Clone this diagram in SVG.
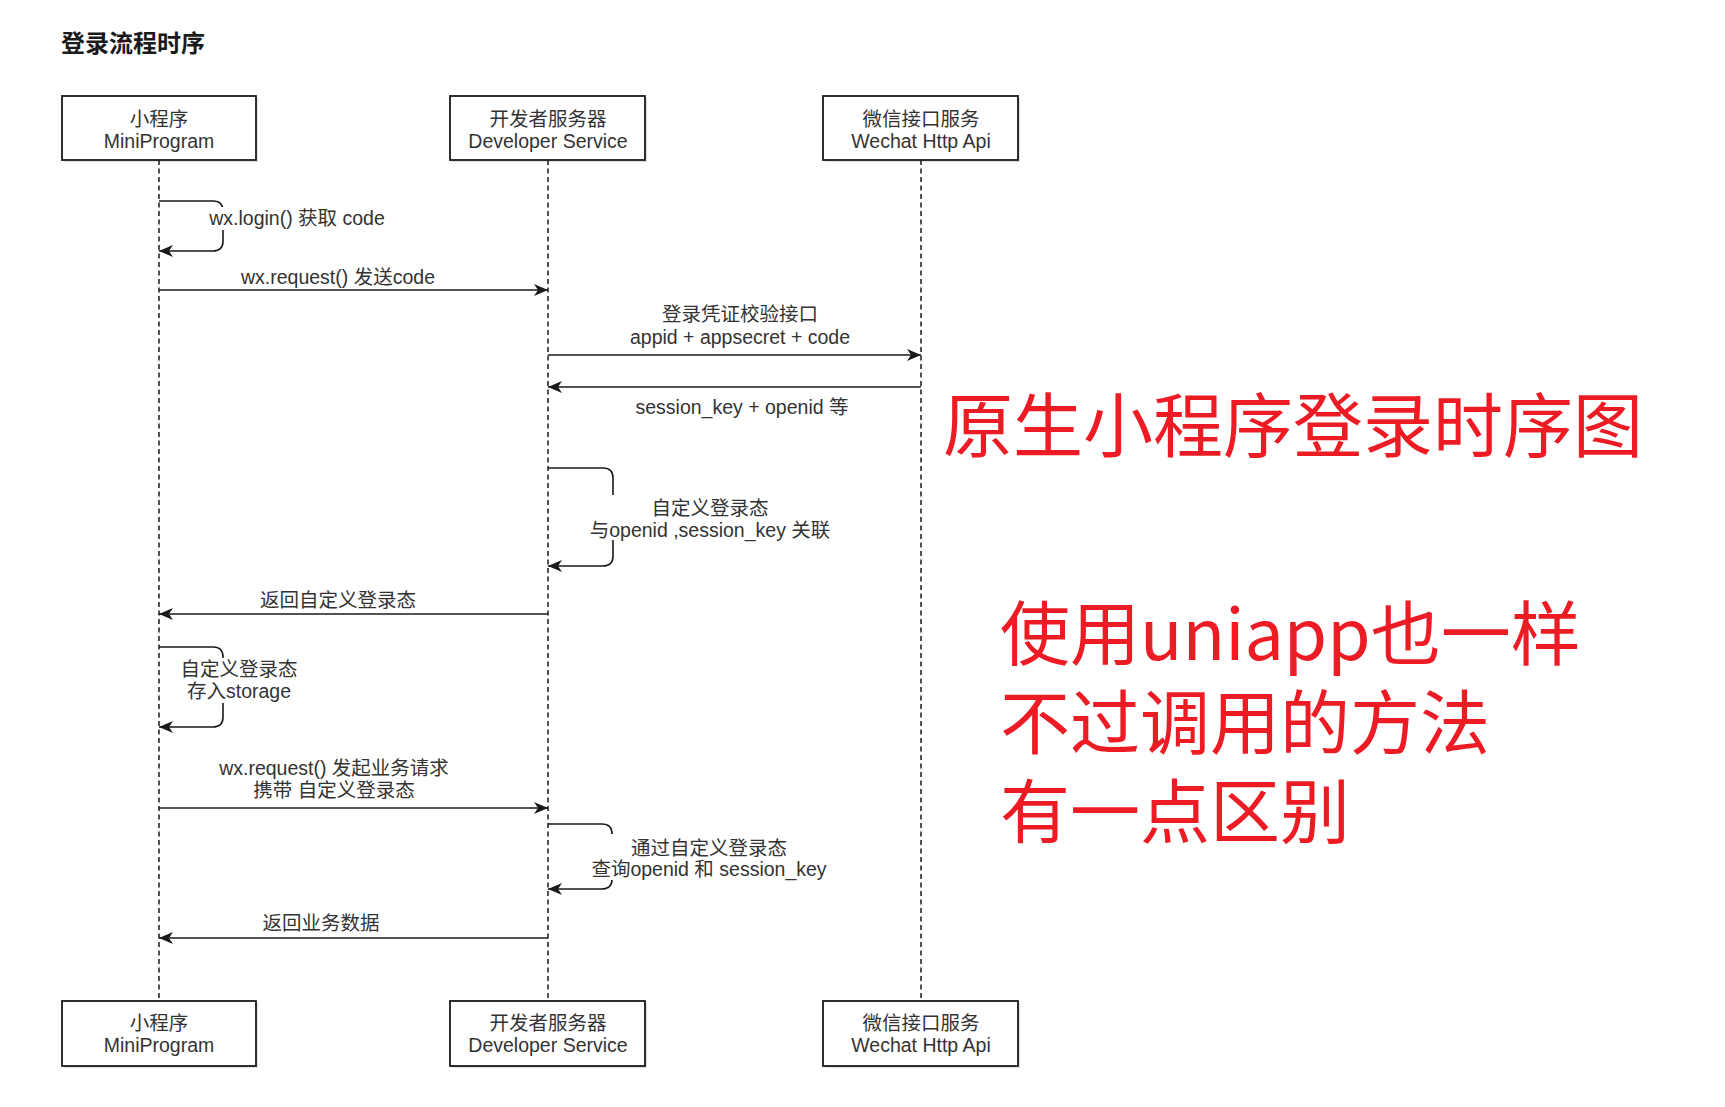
<svg xmlns="http://www.w3.org/2000/svg" width="1725" height="1107" viewBox="0 0 1725 1107">
<style>
.bg{fill:#ffffff}
.box{fill:#ffffff;stroke:#1a1a1a;stroke-width:1.8}
.shadow{fill:#000000;opacity:0.12}
.life{stroke:#1a1a1a;stroke-width:1.5;stroke-dasharray:5 3.5;fill:none}
.msg{stroke:#1a1a1a;stroke-width:1.6;fill:none;marker-end:url(#arr)}
.lbl{font-family:"Liberation Sans","Noto Sans CJK SC",sans-serif;font-size:19.5px;fill:#333333;text-anchor:middle}
.lblbg{fill:#ffffff}
.title{font-family:"Noto Sans CJK SC","Liberation Sans",sans-serif;font-size:24px;font-weight:bold;fill:#1a1a1a}
.red{font-family:"Noto Sans CJK SC","Liberation Sans",sans-serif;font-size:70px;fill:#ed1c24}
</style>
<defs>
<marker id="arr" markerUnits="userSpaceOnUse" viewBox="0 0 14 12" refX="14" refY="6" markerWidth="14" markerHeight="12" orient="auto">
<path d="M0,0 L14,6 L0,12 L4,6 Z" fill="#1a1a1a"/>
</marker>
</defs>
<rect class="bg" x="0" y="0" width="1725" height="1107"/>
<text class="title" x="61" y="52">登录流程时序</text>

<g id="lifelines">
<line class="life" x1="159" y1="160" x2="159" y2="1001"/>
<line class="life" x1="548" y1="160" x2="548" y2="1001"/>
<line class="life" x1="921" y1="160" x2="921" y2="1001"/>
</g>

<g id="node-mini-top">
<rect class="shadow" x="64" y="98" width="194" height="64"/>
<rect class="box" x="62" y="96" width="194" height="64"/>
<text class="lbl" x="159" y="126">小程序</text>
<text class="lbl" x="159" y="148">MiniProgram</text>
</g>
<g id="node-dev-top">
<rect class="shadow" x="452" y="98" width="195" height="64"/>
<rect class="box" x="450" y="96" width="195" height="64"/>
<text class="lbl" x="548" y="126">开发者服务器</text>
<text class="lbl" x="548" y="148">Developer Service</text>
</g>
<g id="node-wx-top">
<rect class="shadow" x="825" y="98" width="195" height="64"/>
<rect class="box" x="823" y="96" width="195" height="64"/>
<text class="lbl" x="921" y="126">微信接口服务</text>
<text class="lbl" x="921" y="148">Wechat Http Api</text>
</g>
<g id="node-mini-bottom">
<rect class="shadow" x="64" y="1003" width="194" height="65"/>
<rect class="box" x="62" y="1001" width="194" height="65"/>
<text class="lbl" x="159" y="1030">小程序</text>
<text class="lbl" x="159" y="1052">MiniProgram</text>
</g>
<g id="node-dev-bottom">
<rect class="shadow" x="452" y="1003" width="195" height="65"/>
<rect class="box" x="450" y="1001" width="195" height="65"/>
<text class="lbl" x="548" y="1030">开发者服务器</text>
<text class="lbl" x="548" y="1052">Developer Service</text>
</g>
<g id="node-wx-bottom">
<rect class="shadow" x="825" y="1003" width="195" height="65"/>
<rect class="box" x="823" y="1001" width="195" height="65"/>
<text class="lbl" x="921" y="1030">微信接口服务</text>
<text class="lbl" x="921" y="1052">Wechat Http Api</text>
</g>

<g id="connectors">
<path class="msg" d="M159,201 H213 Q223,201 223,211 V241 Q223,251 213,251 H159"/>
<rect class="lblbg" x="209" y="207" width="177" height="23"/>
<text class="lbl" x="297" y="225">wx.login() 获取 code</text>

<path class="msg" d="M159,290 H548"/>
<text class="lbl" x="338" y="284">wx.request() 发送code</text>

<path class="msg" d="M548,355 H921"/>
<text class="lbl" x="740" y="321">登录凭证校验接口</text>
<text class="lbl" x="740" y="344">appid + appsecret + code</text>

<path class="msg" d="M921,387 H548"/>
<text class="lbl" x="742" y="414">session_key + openid 等</text>

<path class="msg" d="M548,468 H603 Q613,468 613,478 V556 Q613,566 603,566 H548"/>
<rect class="lblbg" x="589" y="495" width="240" height="45"/>
<text class="lbl" x="710" y="515">自定义登录态</text>
<text class="lbl" x="710" y="537">与openid ,session_key 关联</text>

<path class="msg" d="M548,614 H159"/>
<text class="lbl" x="338" y="607">返回自定义登录态</text>

<path class="msg" d="M159,647 H213 Q223,647 223,657 V717 Q223,727 213,727 H159"/>
<rect class="lblbg" x="181" y="658" width="117" height="45"/>
<text class="lbl" x="239" y="676">自定义登录态</text>
<text class="lbl" x="239" y="698">存入storage</text>

<path class="msg" d="M159,808 H548"/>
<text class="lbl" x="334" y="775">wx.request() 发起业务请求</text>
<text class="lbl" x="334" y="797">携带 自定义登录态</text>

<path class="msg" d="M548,824 H602 Q612,824 612,834 V879 Q612,889 602,889 H548"/>
<rect class="lblbg" x="590" y="834" width="238" height="46"/>
<text class="lbl" x="709" y="855">通过自定义登录态</text>
<text class="lbl" x="709" y="876">查询openid 和 session_key</text>

<path class="msg" d="M548,938 H159"/>
<text class="lbl" x="321" y="930">返回业务数据</text>
</g>

<g id="annotation">
<text class="red" x="943" y="452">原生小程序登录时序图</text>
<text class="red" x="1000" y="660">使用uniapp也一样</text>
<text class="red" x="1000" y="749">不过调用的方法</text>
<text class="red" x="1000" y="838">有一点区别</text>
</g>
</svg>
